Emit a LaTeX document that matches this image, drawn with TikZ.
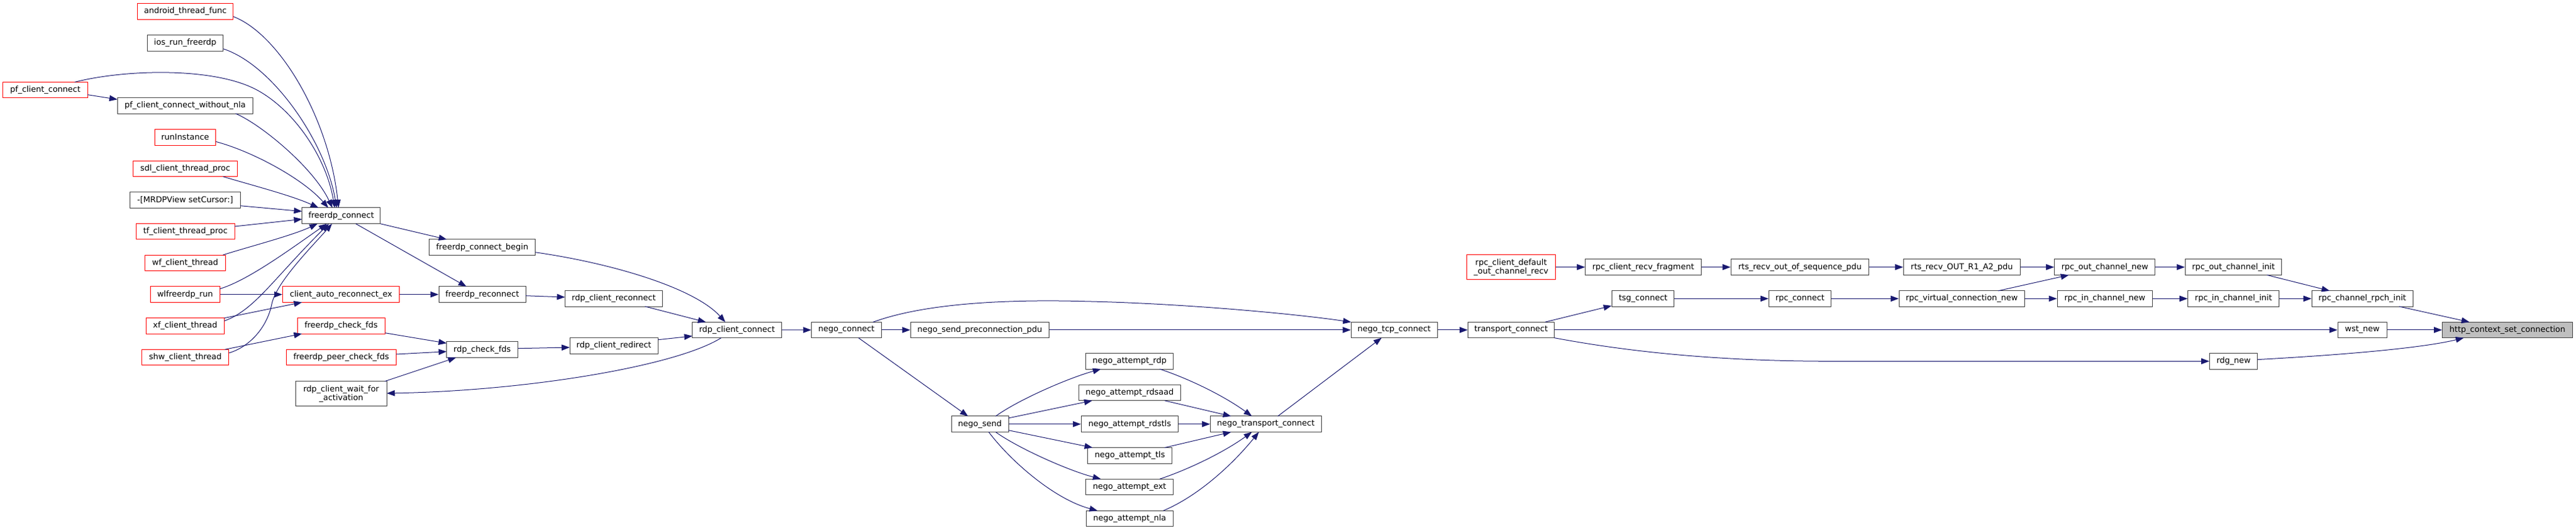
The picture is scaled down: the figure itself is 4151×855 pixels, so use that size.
\documentclass[tikz,border=0pt]{standalone}
\usepackage{fontspec}
\setmainfont{DejaVu Sans}
\usetikzlibrary{arrows.meta}
\definecolor{edgeblue}{HTML}{191970}
\definecolor{nodegrey}{HTML}{404040}
\definecolor{nodered}{HTML}{FF0000}
\definecolor{rootfill}{HTML}{BFBFBF}
\tikzset{
 bx/.style={draw=nodegrey, line width=1pt, fill=white, inner sep=0pt, minimum height=25.5pt, font=\fontsize{13pt}{14pt}\selectfont, text=black},
 rbx/.style={bx, draw=nodered},
 call/.style={draw=edgeblue, line width=1pt, -{Triangle[length=13pt,width=9.5pt]}},
}
\begin{document}
\begin{tikzpicture}[x=1pt,y=-1pt]
\useasboundingbox (0,0) rectangle (4151,855);
% column 1
\node[rbx, minimum width=154.5pt] (atf) at (298.7,18.5) {android\_thread\_func};
\node[bx, minimum width=122.7pt] (ios) at (298.4,69.3) {ios\_run\_freerdp};
\node[rbx, minimum width=136.2pt] (pfc) at (73,145.2) {pf\_client\_connect};
\node[bx, minimum width=218.3pt] (pfn) at (298.4,170.3) {pf\_client\_connect\_without\_nla};
\node[rbx, minimum width=98.7pt] (run) at (298.4,221.3) {runInstance};
\node[rbx, minimum width=167.9pt] (sdl) at (298.6,271.8) {sdl\_client\_thread\_proc};
\node[bx, minimum width=178.1pt] (mrd) at (298.4,322.7) {-[MRDPView setCursor:]};
\node[rbx, minimum width=158.9pt] (tf) at (298.7,373.2) {tf\_client\_thread\_proc};
\node[rbx, minimum width=130.8pt] (wf) at (298.4,423.8) {wf\_client\_thread};
\node[rbx, minimum width=111.6pt] (wl) at (298.2,474.7) {wlfreerdp\_run};
\node[rbx, minimum width=126.3pt] (xf) at (298.4,525.3) {xf\_client\_thread};
\node[rbx, minimum width=140.2pt] (shw) at (298.7,576) {shw\_client\_thread};
% column 2
\node[bx, minimum width=126.3pt] (fc) at (549.8,347.7) {freerdp\_connect};
\node[rbx, minimum width=188.4pt] (car) at (549.6,474.7) {client\_auto\_reconnect\_ex};
\node[rbx, minimum width=141.5pt] (fcf) at (549.8,525.3) {freerdp\_check\_fds};
\node[rbx, minimum width=177.2pt] (fpc) at (549.8,576) {freerdp\_peer\_check\_fds};
\node[bx, minimum width=146.9pt, minimum height=40pt, align=center] (wfa) at (549.8,634.7) {rdp\_client\_wait\_for\\\_activation};
% column 3
\node[bx, minimum width=171pt] (fcb) at (777.1,398.7) {freerdp\_connect\_begin};
\node[bx, minimum width=139.8pt] (frc) at (777.1,474.7) {freerdp\_reconnect};
\node[bx, minimum width=114.8pt] (rcf) at (777.1,563.7) {rdp\_check\_fds};
% column 4
\node[bx, minimum width=157.1pt] (rcr) at (989,481.3) {rdp\_client\_reconnect};
\node[bx, minimum width=142.4pt] (rcd) at (989.2,557.3) {rdp\_client\_redirect};
\node[bx, minimum width=143.8pt] (rcc) at (1187.6,532) {rdp\_client\_connect};
\node[bx, minimum width=112.3pt] (nc) at (1363.9,531.9) {nego\_connect};
\node[bx, minimum width=223.2pt] (nsp) at (1578.9,531.9) {nego\_send\_preconnection\_pdu};
\node[bx, minimum width=92pt] (ns) at (1579,683.7) {nego\_send};
\node[bx, minimum width=141.5pt] (nar) at (1820.2,582.3) {nego\_attempt\_rdp};
\node[bx, minimum width=164.3pt] (nas) at (1820.4,633.1) {nego\_attempt\_rdsaad};
\node[bx, minimum width=156.3pt] (nat) at (1820.4,683.7) {nego\_attempt\_rdstls};
\node[bx, minimum width=136.2pt] (nal) at (1820.7,734.3) {nego\_attempt\_tls};
\node[bx, minimum width=141.5pt] (nae) at (1820.2,785) {nego\_attempt\_ext};
\node[bx, minimum width=140.1pt] (nan) at (1820.4,836) {nego\_attempt\_nla};
\node[bx, minimum width=178.6pt] (ntc) at (2039.7,683.7) {nego\_transport\_connect};
\node[bx, minimum width=138.8pt] (ntcp) at (2246.6,531.9) {nego\_tcp\_connect};
\node[bx, minimum width=138.9pt] (tc) at (2435,531.9) {transport\_connect};
\node[rbx, minimum width=142.5pt, minimum height=40.4pt, align=center] (rdo) at (2435,430.6) {rpc\_client\_default\\\_out\_channel\_recv};
\node[bx, minimum width=186.5pt] (rcrf) at (2647.8,430.6) {rpc\_client\_recv\_fragment};
\node[bx, minimum width=100pt] (tsg) at (2647.8,481.4) {tsg\_connect};
\node[bx, minimum width=222.8pt] (rts1) at (2900.5,430.6) {rts\_recv\_out\_of\_sequence\_pdu};
\node[bx, minimum width=188.4pt] (rts2) at (3161.4,430.6) {rts\_recv\_OUT\_R1\_A2\_pdu};
\node[bx, minimum width=162.5pt] (rocn) at (3391.7,430.6) {rpc\_out\_channel\_new};
\node[bx, minimum width=100.4pt] (rpcc) at (2900.5,481.4) {rpc\_connect};
\node[bx, minimum width=202.2pt] (rvc) at (3161.2,481.4) {rpc\_virtual\_connection\_new};
\node[bx, minimum width=153.6pt] (ricn) at (3391.8,481.4) {rpc\_in\_channel\_new};
\node[bx, minimum width=155.9pt] (roci) at (3599,430.6) {rpc\_out\_channel\_init};
\node[bx, minimum width=146.7pt] (rici) at (3599,481.4) {rpc\_in\_channel\_init};
\node[bx, minimum width=77.2pt] (rdg) at (3599.2,582.3) {rdg\_new};
\node[bx, minimum width=162.8pt] (rpch) at (3806.6,481.4) {rpc\_channel\_rpch\_init};
\node[bx, minimum width=79.1pt] (wst) at (3806.6,531.9) {wst\_new};
\node[bx, fill=rootfill, minimum width=209.7pt] (http) at (4040.5,531.9) {http\_context\_set\_connection};
% edges into freerdp_connect
\draw[call] ([shift={(77.2,8.2)}]atf.center) .. controls (450,55) and (530,190) .. ([shift={(-4.3,-12.7)}]fc.center);
\draw[call] ([shift={(61.35,9.4)}]ios.center) .. controls (440,105) and (525,230) .. ([shift={(-7.4,-12.7)}]fc.center);
\draw[call] ([shift={(47.5,-12.85)}]pfc.center) .. controls (200,112) and (340,108) .. (410,143) .. controls (470,173) and (525,250) .. ([shift={(-10.5,-12.7)}]fc.center);
\draw[call] ([shift={(68.1,7.5)}]pfc.center) -- ([shift={(-109.15,-10)}]pfn.center);
\draw[call] ([shift={(81.1,12.7)}]pfn.center) .. controls (420,200) and (505,270) .. ([shift={(-14.1,-12.7)}]fc.center);
\draw[call] ([shift={(49.35,7)}]run.center) .. controls (410,245) and (490,290) .. ([shift={(-20.8,-12.7)}]fc.center);
\draw[call] ([shift={(60.8,12.85)}]sdl.center) .. controls (400,297) and (470,315) .. ([shift={(-36.5,-12.7)}]fc.center);
\draw[call] ([shift={(89.05,9)}]mrd.center) -- ([shift={(-63.15,-7)}]fc.center);
\draw[call] ([shift={(79.45,-8.2)}]tf.center) -- ([shift={(-63.15,5.6)}]fc.center);
\draw[call] ([shift={(61,-12.85)}]wf.center) .. controls (400,398) and (470,380) .. ([shift={(-38.1,13)}]fc.center);
\draw[call] ([shift={(55.8,-9)}]wl.center) .. controls (400,452) and (470,400) .. ([shift={(-23.1,13)}]fc.center);
\draw[call] ([shift={(63.15,-8)}]xf.center) .. controls (410,500) and (440,450) .. ([shift={(-19.8,13)}]fc.center);
\draw[call] ([shift={(70.1,-7)}]shw.center) .. controls (400,560) and (430,530) .. (438,490) .. controls (445,455) and (505,395) .. ([shift={(-14.8,13)}]fc.center);
% other left edges
\draw[call] (wl) -- (car);
\draw[call] ([shift={(63,-12.6)}]xf.center) -- ([shift={(-63,12.6)}]car.center);
\draw[call] ([shift={(63.8,-12.7)}]shw.center) -- ([shift={(-63.2,12.65)}]fcf.center);
\draw[call] ([shift={(63.15,13)}]fc.center) -- ([shift={(-57.1,-12.7)}]fcb.center);
\draw[call] ([shift={(23.5,13)}]fc.center) -- ([shift={(-25.4,-12.7)}]frc.center);
\draw[call] (car) -- (frc);
\draw[call] ([shift={(85.5,8)}]fcb.center) .. controls (990,425) and (1120,465) .. ([shift={(-18.8,-12.7)}]rcc.center);
\draw[call] ([shift={(69.9,2)}]frc.center) -- ([shift={(-78.55,-2.3)}]rcr.center);
\draw[call] ([shift={(50.4,12.65)}]rcr.center) -- ([shift={(-50,-12.7)}]rcc.center);
\draw[call] ([shift={(70.75,11.4)}]fcf.center) -- ([shift={(-57.4,-10.4)}]rcf.center);
\draw[call] ([shift={(88.6,-5)}]fpc.center) -- ([shift={(-57.4,3)}]rcf.center);
\draw[call] ([shift={(70.2,-20)}]wfa.center) -- ([shift={(-42.1,12.65)}]rcf.center);
\draw[call] ([shift={(57.4,-2)}]rcf.center) -- ([shift={(-71.2,2.7)}]rcd.center);
\draw[call] ([shift={(71.2,-9.6)}]rcd.center) -- ([shift={(-71.9,9.7)}]rcc.center);
\draw[call] ([shift={(-25.6,12.7)}]rcc.center) .. controls (1090,590) and (850,630) .. ([shift={(73.45,-0.7)}]wfa.center);
% nego
\draw[call] (rcc) -- (nc);
\draw[call] (nc) -- (nsp);
\draw[call] ([shift={(19.4,12.7)}]nc.center) -- ([shift={(-19,-12.7)}]ns.center);
\draw[call] ([shift={(42.8,-12.6)}]nc.center) .. controls (1500,485) and (1650,483) .. (1750,485.8) .. controls (1900,489) and (2080,505) .. ([shift={(-69.4,-12.7)}]ntcp.center);
\draw[call] (nsp) -- (ntcp);
\draw[call] ([shift={(25.4,-12.75)}]ns.center) .. controls (1640,645) and (1720,610) .. ([shift={(-46.2,12.6)}]nar.center);
\draw[call] ([shift={(46,-9.7)}]ns.center) -- ([shift={(-60.4,12.7)}]nas.center);
\draw[call] (ns) -- (nat);
\draw[call] ([shift={(46,9.9)}]ns.center) -- ([shift={(-60.1,-12.7)}]nal.center);
\draw[call] ([shift={(25.4,12.75)}]ns.center) .. controls (1640,722) and (1720,758) .. ([shift={(-46.2,-12.75)}]nae.center);
\draw[call] ([shift={(14.2,12.75)}]ns.center) .. controls (1630,745) and (1700,805) .. ([shift={(-51.8,-12.75)}]nan.center);
\draw[call] ([shift={(48.5,12.6)}]nar.center) .. controls (1920,612) and (1975,640) .. ([shift={(-22.4,-12.75)}]ntc.center);
\draw[call] ([shift={(56.3,12.7)}]nas.center) -- ([shift={(-55.9,-12.75)}]ntc.center);
\draw[call] (nat) -- (ntc);
\draw[call] ([shift={(56,-12.7)}]nal.center) -- ([shift={(-55.9,12.75)}]ntc.center);
\draw[call] ([shift={(48.5,-12.75)}]nae.center) .. controls (1920,755) and (1975,727) .. ([shift={(-22.4,12.75)}]ntc.center);
\draw[call] ([shift={(54.1,-12.75)}]nan.center) .. controls (1930,800) and (1985,750) .. ([shift={(-11.2,12.75)}]ntc.center);
\draw[call] ([shift={(19.3,-12.75)}]ntc.center) -- ([shift={(-20.3,12.7)}]ntcp.center);
\draw[call] (ntcp) -- (tc);
% transport and rpc
\draw[call] ([shift={(54.7,-12.7)}]tc.center) -- ([shift={(-50.9,11.5)}]tsg.center);
\draw[call] (tc) -- (wst);
\draw[call] ([shift={(69.45,12.7)}]tc.center) .. controls (2650,572) and (2800,582.3) .. (2950,582.3) -- (rdg.west);
\draw[call] (tsg) -- (rpcc);
\draw[call] (rpcc) -- (rvc);
\draw[call] (rvc) -- (ricn);
\draw[call] ([shift={(58.7,-12.6)}]rvc.center) -- ([shift={(-57.9,12.75)}]rocn.center);
\draw[call] (rdo) -- (rcrf);
\draw[call] (rcrf) -- (rts1);
\draw[call] (rts1) -- (rts2);
\draw[call] (rts2) -- (rocn);
\draw[call] (rocn) -- (roci);
\draw[call] (ricn) -- (rici);
\draw[call] (rici) -- (rpch);
\draw[call] ([shift={(54,12.75)}]roci.center) -- ([shift={(-52.5,-12.6)}]rpch.center);
\draw[call] ([shift={(59.3,12.6)}]rpch.center) -- ([shift={(-61.1,-12.7)}]http.center);
\draw[call] (wst) -- (http);
\draw[call] ([shift={(38.6,-2.7)}]rdg.center) .. controls (3760,573) and (3900,562) .. ([shift={(-70.3,12.7)}]http.center);
\end{tikzpicture}
\end{document}
